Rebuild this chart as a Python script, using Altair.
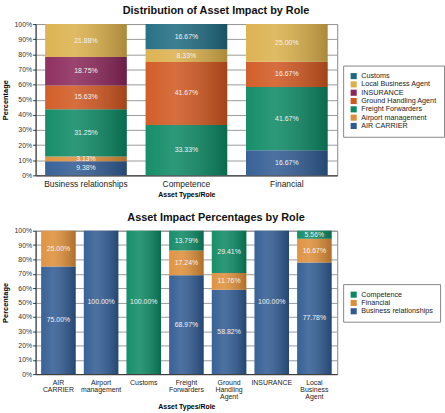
import altair as alt
import pandas as pd

FONT = "Liberation Sans, Arial, sans-serif"

# ---------------- Top chart data ----------------
ROLES = ["AIR CARRIER", "Airport management", "Freight Forwarders",
         "Ground Handling Agent", "INSURANCE", "Local Business Agent", "Customs"]  # stack order bottom -> top
ROLE_COLORS = ["#2f5a92", "#de8e38", "#0b8862", "#d0561f", "#8a2659", "#dbb04b", "#1e6a80"]
ASSET_TYPES = ["Business relationships", "Competence", "Financial"]
BR_VALUES = [9.38, 3.13, 31.25, 15.63, 18.75, 21.88, 0]
COMP_VALUES = [0, 0, 33.33, 41.67, 0, 8.33, 16.67]
FIN_VALUES = [16.67, 0, 41.67, 16.67, 0, 25.00, 0]

# ---------------- Bottom chart data ----------------
ROLE_CATS = ["AIR CARRIER", "Airport management", "Customs", "Freight Forwarders",
             "Ground Handling Agent", "INSURANCE", "Local Business Agent"]
SERIES = ["Business relationships", "Financial", "Competence"]  # stack order bottom -> top
SERIES_COLORS = ["#2f5a92", "#de8e38", "#0b8862"]
BUSINESS = [75.00, 100.00, 0, 68.97, 58.82, 100.00, 77.78]
FINANCIAL = [25.00, 0, 0, 17.24, 11.76, 0, 16.67]
COMPETENCE = [0, 0, 100.00, 13.79, 29.41, 0, 5.56]

rows = []
for cat, vals in zip(ASSET_TYPES, [BR_VALUES, COMP_VALUES, FIN_VALUES]):
    for i, (role, v) in enumerate(zip(ROLES, vals)):
        if v > 0:
            rows.append({"cat": cat, "series": role, "order": i, "value": v})
df_top = pd.DataFrame(rows)

rows = []
for i, (s, vals) in enumerate(zip(SERIES, [BUSINESS, FINANCIAL, COMPETENCE])):
    for cat, v in zip(ROLE_CATS, vals):
        if v > 0:
            rows.append({"cat": cat, "series": s, "order": i, "value": v})
df_bot = pd.DataFrame(rows)

gradient = alt.LinearGradient(
    gradient="linear", x1=0, x2=1, y1=0, y2=0,
    stops=[alt.GradientStop(offset=0, color="rgba(255,255,255,0.05)"),
           alt.GradientStop(offset=0.35, color="rgba(255,255,255,0.14)"),
           alt.GradientStop(offset=1, color="rgba(0,0,0,0.22)")])


def make_chart(df, cats, legend_order, legend_colors, title, w, h, pin, pout,
               xlabel_size, label_expr, legend_y):
    base = alt.Chart(df).transform_stack(
        stack="value", groupby=["cat"], sort=[alt.SortField("order", "ascending")],
        as_=["v0", "v1"]
    ).transform_calculate(
        mid="(datum.v0 + datum.v1) / 2",
        label="format(datum.value, '.2f') + '%'"
    )
    x_scale = alt.Scale(paddingInner=pin, paddingOuter=pout)
    x_axis = alt.Axis(title="Asset Types/Role", labelAngle=0, labelFontSize=xlabel_size,
                      labelColor="#222", ticks=False, tickSize=0, labelPadding=4,
                      titlePadding=3, titleFontSize=7, titleFontWeight="bold",
                      labelExpr=label_expr, labelLineHeight=7.4,
                      domainColor="#333", grid=False)
    x = alt.X("cat:N", sort=cats, scale=x_scale, axis=x_axis)
    y_scale = alt.Scale(domain=[0, 100], nice=False)
    y_axis = alt.Axis(title="Percentage", values=list(range(0, 101, 10)),
                      labelExpr="datum.value + '%'", labelFontSize=7, labelColor="#333",
                      labelOverlap=False, labelBound=False,
                      tickSize=3, labelPadding=1, tickColor="#333", domainColor="#333",
                      titleFontSize=7.5, titleFontWeight="bold", titlePadding=5,
                      gridColor="#9a9a9a", gridOpacity=1)
    bars = base.mark_bar().encode(
        x=x,
        y=alt.Y("v0:Q", scale=y_scale, axis=y_axis),
        y2="v1:Q",
        color=alt.Color("series:N",
                        scale=alt.Scale(domain=legend_order, range=legend_colors),
                        legend=alt.Legend(title=None, orient="none", legendX=311,
                                          legendY=legend_y, symbolType="square",
                                          symbolSize=38, symbolStrokeWidth=0,
                                          labelFontSize=7.3, labelColor="#222",
                                          labelOffset=4, rowPadding=0.4,
                                          strokeColor="#888", padding=7,
                                          fillColor="white")),
    )
    overlay = base.mark_bar(color=gradient).encode(
        x=x, y=alt.Y("v0:Q", scale=y_scale, axis=y_axis), y2="v1:Q")
    text = base.mark_text(fontSize=7, color="#f2f2f2", font=FONT).encode(
        x=x, y=alt.Y("mid:Q", scale=y_scale, axis=y_axis), text="label:N")
    return alt.layer(bars, overlay, text).properties(
        width=w, height=h,
        title=alt.TitleParams(title, fontSize=11, fontWeight="bold", font=FONT,
                              anchor="middle", dx=30, offset=4, color="#111"))


top = make_chart(df_top, ASSET_TYPES, ROLES[::-1], ROLE_COLORS[::-1],
                 "Distribution of Asset Impact by Role", 305, 153, 0.187, 0.095,
                 8.5, "datum.label", 42)
bottom = make_chart(df_bot, ROLE_CATS, SERIES[::-1], SERIES_COLORS[::-1],
                    "Asset Impact Percentages by Role", 305, 145, 0.19, 0.13,
                    7, "split(datum.label, ' ')", 54)

chart = alt.vconcat(top, bottom, spacing=13).resolve_scale(
    color="independent", x="independent", y="independent"
).resolve_legend(color="independent").properties(
    padding={"left": 0, "top": 2, "right": 0, "bottom": 0}
).configure(font=FONT).configure_view(stroke="#888")

chart.save("out.html", embed_options={"renderer": "svg", "actions": False})
